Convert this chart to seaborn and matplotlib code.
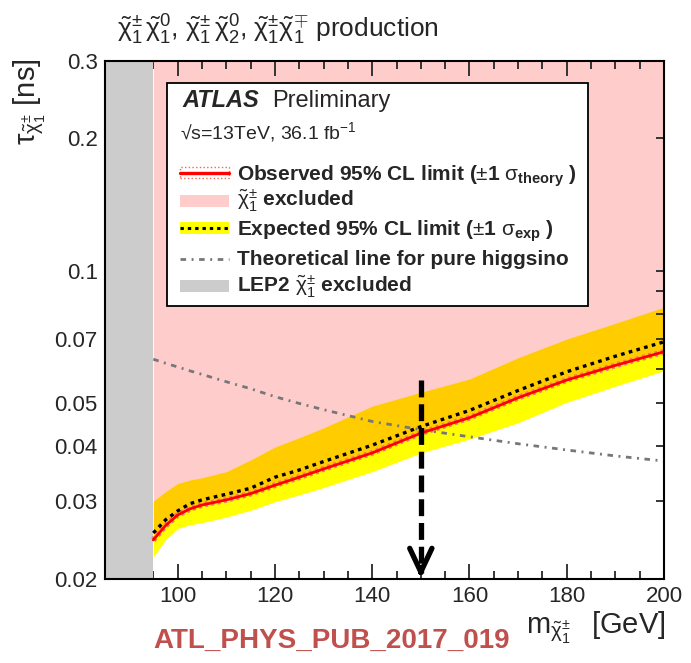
import numpy as np
import pandas as pd
import matplotlib
matplotlib.use("Agg")
import matplotlib.pyplot as plt
import seaborn as sns
from matplotlib.patches import Rectangle
from matplotlib.lines import Line2D
from matplotlib.ticker import FixedLocator, FixedFormatter, NullFormatter

# ---------------- data ----------------
mass = [95, 97.5, 100, 102.5, 105, 110, 115, 120, 125, 130, 140, 150, 160, 170, 180, 190, 200]
observed = [0.0245, 0.0264, 0.0279, 0.0288, 0.0294, 0.0302, 0.0312, 0.0326, 0.0340, 0.0355,
            0.0386, 0.0428, 0.0464, 0.0515, 0.0565, 0.0610, 0.0655]
expected = [0.0254, 0.0272, 0.0285, 0.0296, 0.0302, 0.0311, 0.0321, 0.0340, 0.0353, 0.0369,
            0.0402, 0.0443, 0.0482, 0.0535, 0.0590, 0.0640, 0.0690]
exp_up = [0.0300, 0.0315, 0.0329, 0.0335, 0.0339, 0.0350, 0.0372, 0.0398, 0.0418, 0.0440,
          0.0493, 0.0530, 0.0568, 0.0635, 0.0700, 0.0760, 0.0827]
exp_down = [0.0224, 0.0245, 0.0260, 0.0265, 0.0268, 0.0276, 0.0286, 0.0299, 0.0310, 0.0322,
            0.0350, 0.0386, 0.0415, 0.0452, 0.0503, 0.0547, 0.0593]
theory = [0.0630, 0.0617, 0.0605, 0.0593, 0.0582, 0.0560, 0.0540, 0.0518, 0.0500, 0.0484,
          0.0455, 0.0436, 0.0420, 0.0405, 0.0392, 0.0380, 0.0370]
lep2_limit = 95.0
arrow_mass = 150.0
arrow_top = 0.0565

x_range = (85, 200)
y_range = (0.02, 0.3)
x_major = [100, 120, 140, 160, 180, 200]
x_minor = [90, 95, 105, 110, 115, 125, 130, 135, 145, 150, 155, 165, 170, 175, 185, 190, 195]
y_major = [0.02, 0.03, 0.04, 0.05, 0.07, 0.1, 0.2, 0.3]
y_major_labels = ["0.02", "0.03", "0.04", "0.05", "0.07", "0.1", "0.2", "0.3"]
y_minor = [0.06, 0.08, 0.09]

df = pd.DataFrame({"mass": mass, "observed": observed, "expected": expected,
                   "exp_up": exp_up, "exp_down": exp_down, "theory": theory})

# ---------------- style ----------------
sns.set_style("ticks")
plt.rcParams["font.family"] = ["Liberation Sans", "DejaVu Sans"]
plt.rcParams["mathtext.fontset"] = "custom"
plt.rcParams["mathtext.rm"] = "Liberation Sans"
plt.rcParams["mathtext.it"] = "Liberation Sans"
plt.rcParams["mathtext.bf"] = "Liberation Sans:bold"
plt.rcParams["mathtext.sf"] = "Liberation Sans"

W, H = 691, 663
fig = plt.figure(figsize=(W / 100, H / 100), dpi=100)
fig.patch.set_facecolor("white")
ax_l, ax_r, ax_t, ax_b = 104.7, 664.0, 60.7, 578.7
ax = fig.add_axes([ax_l / W, 1 - ax_b / H, (ax_r - ax_l) / W, (ax_b - ax_t) / H])
ax.set_facecolor("white")


def F(x, y):
    return (x / W, 1 - y / H)


PINK = "#FFCCCC"
ORANGE = "#FFCC00"
YELLOW = "#FFFF00"
GREY = "#CCCCCC"
THEORY_GREY = "#777777"
THEORY_DASH = (0, (2.0, 2.0, 0.7, 2.0))

ax.set_yscale("log")
ax.set_xlim(*x_range)
ax.set_ylim(*y_range)

# excluded region and bands
ax.fill_between(df["mass"], df["observed"], y_range[1], color=PINK, lw=0, zorder=1)
ax.fill_between(df["mass"], df["observed"], df["exp_up"], color=ORANGE, lw=0, zorder=2)
ax.fill_between(df["mass"], df["exp_down"], df["observed"], color=YELLOW, lw=0, zorder=2)
ax.axvspan(x_range[0], lep2_limit, color=GREY, lw=0, zorder=3)

# lines
sns.lineplot(data=df, x="mass", y="theory", ax=ax, color=THEORY_GREY, lw=2.0,
             linestyle=THEORY_DASH, sort=False, estimator=None, zorder=4)
sns.lineplot(data=df, x="mass", y="observed", ax=ax, color="#FF7070", lw=4.2,
             linestyle=(0, (0.5, 0.6)), sort=False, estimator=None, zorder=5)
sns.lineplot(data=df, x="mass", y="observed", ax=ax, color="#FF0000", lw=2.0,
             sort=False, estimator=None, zorder=6)
sns.lineplot(data=df, x="mass", y="expected", ax=ax, color="black", lw=2.4,
             linestyle=(0, (1.1, 1.3)), sort=False, estimator=None, zorder=6)

# arrow
ax.plot([arrow_mass, arrow_mass], [arrow_top, y_range[0] * 1.03], color="black", lw=3.8,
        linestyle=(0, (3.2, 1.3)), zorder=7, solid_capstyle="butt", dash_capstyle="butt")
ax.annotate("", xy=(arrow_mass, y_range[0] * 1.003), xytext=(arrow_mass, y_range[0] * 1.06),
            arrowprops=dict(arrowstyle="->,head_length=0.85,head_width=0.4", lw=3.8,
                            color="black", mutation_scale=20, shrinkA=0, shrinkB=0),
            zorder=7)

# axes styling
ax.set_xlabel("")
ax.set_ylabel("")
for s in ax.spines.values():
    s.set_linewidth(1.5)
    s.set_color("black")
    s.set_zorder(10)
ax.xaxis.set_major_locator(FixedLocator(x_major))
ax.xaxis.set_minor_locator(FixedLocator(x_minor))
ax.yaxis.set_major_locator(FixedLocator(y_major))
ax.yaxis.set_major_formatter(FixedFormatter(y_major_labels))
ax.yaxis.set_minor_locator(FixedLocator(y_minor))
ax.yaxis.set_minor_formatter(NullFormatter())
ax.tick_params(axis="both", which="both", direction="in", top=True, right=True,
               width=1.3, labelsize=16, zorder=10)
ax.tick_params(axis="x", which="major", length=11, pad=5)
ax.tick_params(axis="x", which="minor", length=5.5)
ax.tick_params(axis="y", which="both", length=6, pad=5)
ax.set_axisbelow(False)

# ---------------- texts ----------------
fig.text(*F(117, 38),
         r"$\tilde{\chi}_1^{\pm}\,\tilde{\chi}_1^{0}$, $\tilde{\chi}_1^{\pm}\,\tilde{\chi}_2^{0}$, "
         r"$\tilde{\chi}_1^{\pm}\tilde{\chi}_1^{\mp}$ production",
         fontsize=19, ha="left", va="baseline")
fig.text(*F(30, 58), r"$\tau_{\tilde{\chi}_1^{\pm}}$ [ns]", fontsize=21, rotation=90,
         ha="center", va="top")
fig.text(*F(665, 634), r"m$_{\tilde{\chi}_1^{\pm}}$" + "\u2002\u2009[GeV]", fontsize=21,
         ha="right", va="baseline")
fig.text(*F(153, 648), "ATL_PHYS_PUB_2017_019", fontsize=20, fontweight="bold",
         color="#C0504D", ha="left", va="baseline")

# ---------------- legend box ----------------
box = Rectangle(F(167, 306), (588 - 167) / W, (306 - 83) / H, transform=fig.transFigure,
                facecolor="white", edgecolor="black", lw=1.3, zorder=20, clip_on=False)
fig.patches.append(box)

fig.text(*F(182, 107), "ATLAS", fontsize=17, fontweight="bold", fontstyle="italic",
         ha="left", va="baseline", zorder=21)
fig.text(*F(272, 107), "Preliminary", fontsize=17, ha="left", va="baseline", zorder=21)
fig.text(*F(180, 139), "\u221as=13TeV, 36.1 fb$^{-1}$", fontsize=14, ha="left",
         va="baseline", zorder=21)

sx0, sx1, tx = 180, 229, 237
# observed symbol
fig.patches.append(Rectangle(F(sx0, 178), (sx1 - sx0) / W, 11 / H, transform=fig.transFigure,
                             facecolor="none", edgecolor="#FF6040", lw=1.0, linestyle=":",
                             zorder=21))
fig.lines.append(Line2D([sx0 / W, sx1 / W], [1 - 173 / H, 1 - 173 / H],
                        transform=fig.transFigure, color="#FF0000", lw=2.4, zorder=22))
fig.text(*F(tx, 181), r"Observed 95% CL limit ($\pm$1 $\sigma_{\mathbf{theory}}$ )",
         fontsize=15, fontweight="bold", ha="left", va="baseline", zorder=21)
# excluded symbol
fig.patches.append(Rectangle(F(sx0, 207), (sx1 - sx0) / W, 12 / H, transform=fig.transFigure,
                             facecolor=PINK, edgecolor="none", zorder=21))
fig.text(*F(tx, 206), r"$\tilde{\chi}_1^{\pm}$ excluded", fontsize=15, fontweight="bold",
         ha="left", va="baseline", zorder=21)
# expected symbol
fig.patches.append(Rectangle(F(sx0, 234), (sx1 - sx0) / W, 12 / H, transform=fig.transFigure,
                             facecolor=YELLOW, edgecolor="none", zorder=21))
fig.lines.append(Line2D([sx0 / W, sx1 / W], [1 - 228 / H, 1 - 228 / H],
                        transform=fig.transFigure, color="black", lw=2.2,
                        linestyle=(0, (1.1, 1.3)), zorder=22))
fig.text(*F(tx, 236), r"Expected 95% CL limit ($\pm$1 $\sigma_{\mathbf{exp}}$ )",
         fontsize=15, fontweight="bold", ha="left", va="baseline", zorder=21)
# theory symbol
fig.lines.append(Line2D([sx0 / W, sx1 / W], [1 - 259 / H, 1 - 259 / H],
                        transform=fig.transFigure, color=THEORY_GREY, lw=2.0,
                        linestyle=THEORY_DASH, zorder=22))
fig.text(*F(tx, 265), "Theoretical line for pure higgsino", fontsize=15, fontweight="bold",
         ha="left", va="baseline", zorder=21)
# LEP2 symbol
fig.patches.append(Rectangle(F(sx0, 292), (sx1 - sx0) / W, 12 / H, transform=fig.transFigure,
                             facecolor=GREY, edgecolor="none", zorder=21))
fig.text(*F(tx, 292), r"LEP2 $\tilde{\chi}_1^{\pm}$ excluded", fontsize=15, fontweight="bold",
         ha="left", va="baseline", zorder=21)

fig.savefig("out.png", dpi=100, facecolor="white")
